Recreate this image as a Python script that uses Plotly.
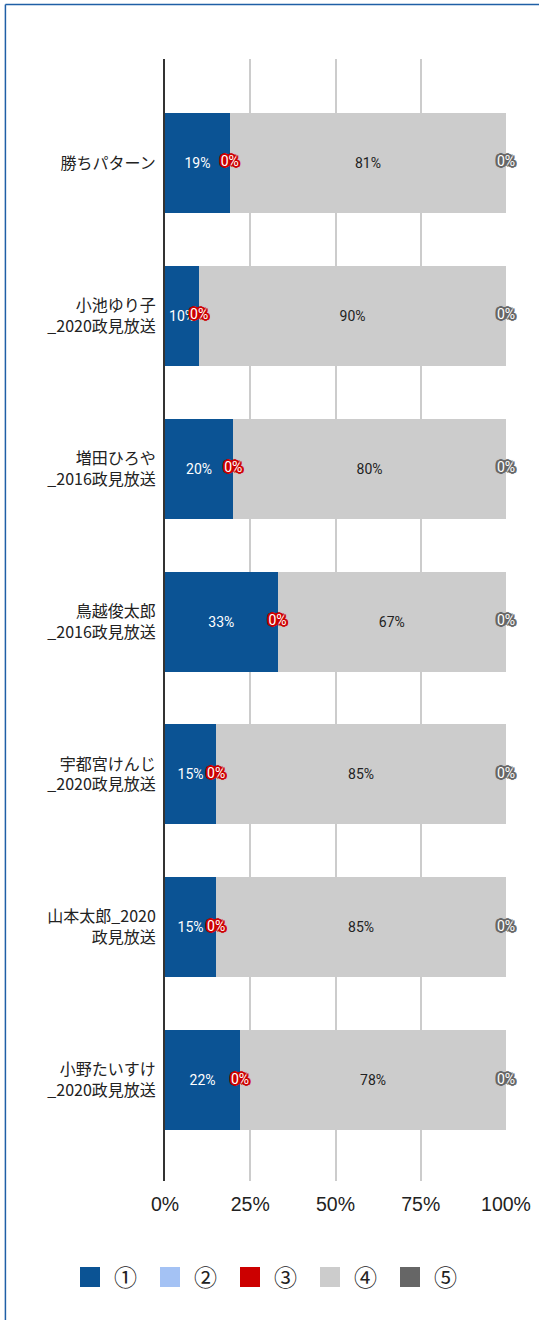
import plotly.graph_objects as go

categories = ["勝ちパターン", "小池ゆり子<br>_2020政見放送", "増田ひろや<br>_2016政見放送",
              "鳥越俊太郎<br>_2016政見放送", "宇都宮けんじ<br>_2020政見放送",
              "山本太郎_2020<br>政見放送", "小野たいすけ<br>_2020政見放送"]
series_names = ["①", "②", "③", "④", "⑤"]
s1 = [19, 10, 20, 33, 15, 15, 22]
s2 = [0, 0, 0, 0, 0, 0, 0]
s3 = [0, 0, 0, 0, 0, 0, 0]
s4 = [81, 90, 80, 67, 85, 85, 78]
s5 = [0, 0, 0, 0, 0, 0, 0]
x_ticks = [0, 25, 50, 75, 100]
x_tick_labels = ["0%", "25%", "50%", "75%", "100%"]

colors = ["#0b5394", "#a4c2f4", "#cc0000", "#cccccc", "#666666"]
label_colors = ["#ffffff", "#000000", "#ffffff", "#222222", "#ffffff"]
values = [s1, s2, s3, s4, s5]

fig = go.Figure()
BW = 0.654
for i, (name, vals) in enumerate(zip(series_names, values)):
    txt = [f"{v}%" if v > 0 else "" for v in vals]
    fig.add_trace(go.Bar(
        y=categories, x=vals, name=name, orientation="h",
        marker=dict(color=colors[i], line=dict(width=0)),
        width=BW, showlegend=False,
        text=txt, textposition="inside", insidetextanchor="middle",
        textangle=0, constraintext="none",
        textfont=dict(family="Roboto", size=14, color=label_colors[i]),
        hoverinfo="skip",
    ))


def shadow(c):
    offs = [(1, 1), (-1, -1), (1, -1), (-1, 1), (2, 0), (-2, 0), (0, 2), (0, -2),
            (2, 1), (-2, 1), (2, -1), (-2, -1)]
    return ", ".join(f"{c} {a}px {b}px 0px" for a, b in offs) + f", {c} 0 0 3px"


# zero-value labels for series ③ and ⑤ at their stacked positions
for idx in (2, 4):
    xs = [sum(values[k][j] for k in range(idx)) + values[idx][j] / 2 for j in range(len(categories))]
    fig.add_trace(go.Scatter(
        x=xs, y=categories, mode="text",
        text=[f"{v}%" for v in values[idx]],
        textfont=dict(family="Roboto", size=14, color="#ffffff", shadow=shadow(colors[idx])),
        showlegend=False, hoverinfo="skip", cliponaxis=False,
    ))

# legend entries
for i, name in enumerate(series_names):
    fig.add_trace(go.Scatter(
        x=[None], y=[None], mode="markers", name=name,
        marker=dict(symbol="square", size=16, color=colors[i],
                    line=dict(color=colors[i], width=4)),
    ))

fig.update_layout(
    barmode="stack",
    width=539, height=1320,
    margin=dict(l=165, r=33, t=59, b=139, autoexpand=False),
    paper_bgcolor="white", plot_bgcolor="white",
    font=dict(family="Noto Sans CJK JP", color="#222222"),
    xaxis=dict(range=[0, 100], tickvals=x_ticks, ticktext=x_tick_labels,
               showgrid=True, gridcolor="#cccccc", gridwidth=1.5,
               zeroline=False, showline=False, ticks="", automargin=False,
               tickfont=dict(family="Liberation Sans", size=19.5, color="#222222"),
               ticklabelstandoff=9, fixedrange=True),
    yaxis=dict(type="category", range=[6.66, -0.68], showgrid=False, automargin=False,
               showline=True, linecolor="#333333", linewidth=2, ticks="",
               tickfont=dict(family="Noto Sans CJK JP", size=16, color="#222222"),
               ticklabelstandoff=4, fixedrange=True),
    legend=dict(orientation="h", traceorder="normal", itemwidth=38,
                x=-0.2903, xanchor="left", y=-0.0856, yanchor="middle",
                font=dict(family="Noto Sans CJK JP", size=23, color="#222222"),
                entrywidth=27, entrywidthmode="pixels", itemclick=False),
    shapes=[
        dict(type="line", xref="paper", yref="paper", x0=-0.468, x1=-0.468,
             y0=1.0486, y1=-0.3, line=dict(color="#1f5fa6", width=1.5)),
        dict(type="line", xref="paper", yref="paper", x0=-0.468, x1=2,
             y0=1.0486, y1=1.0486, line=dict(color="#1f5fa6", width=1.5)),
    ],
)

fig.write_html("out.html", config={"displayModeBar": False},
               post_script="document.body.style.margin='0px';")
